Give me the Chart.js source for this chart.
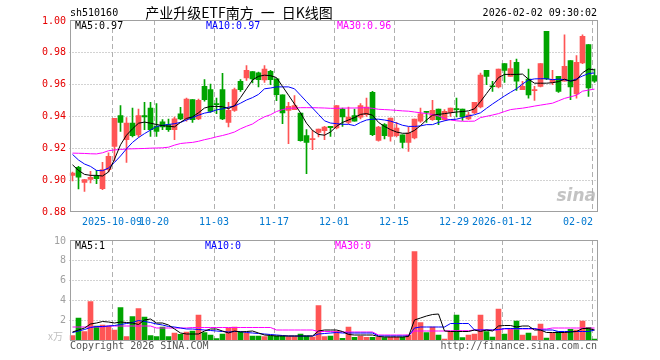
<!DOCTYPE html>
<html>
<head>
<meta charset="utf-8">
<script src="https://cdn.jsdelivr.net/npm/chart.js@4/dist/chart.umd.min.js"></script>
<style>
  body { margin: 0; background: #fff; }
  #wrap { position: relative; width: 660px; height: 360px; }
  canvas { position: absolute; left: 0; }
</style>
</head>
<body>
<div id="wrap">
  <canvas id="k" width="660" height="228" style="top:0"></canvas>
  <canvas id="v" width="660" height="132" style="top:228px"></canvas>
</div>
<script>
// trading days shown on the chart
const dates = ['09-22','09-23','09-24','09-25','09-26','09-29','09-30','10-09','10-10','10-13',
  '10-14','10-15','10-16','10-17','10-20','10-21','10-22','10-23','10-24','10-27',
  '10-28','10-29','10-30','10-31','11-03','11-04','11-05','11-06','11-07','11-10',
  '11-11','11-12','11-13','11-14','11-17','11-18','11-19','11-20','11-21','11-24',
  '11-25','11-26','11-27','11-28','12-01','12-02','12-03','12-04','12-05','12-08',
  '12-09','12-10','12-11','12-12','12-15','12-16','12-17','12-18','12-19','12-22',
  '12-23','12-24','12-25','12-26','12-29','12-30','12-31','01-05','01-06','01-07',
  '01-08','01-09','01-12','01-13','01-14','01-15','01-16','01-19','01-20','01-21',
  '01-22','01-23','01-26','01-27','01-28','01-29','01-30','02-02'];

const open = [.9029,.9079,.8985,.9004,.9023,.8946,.9065,.9210,.9402,.9252,
  .9356,.9281,.9402,.9450,.9335,.9363,.9346,.9315,.9413,.9381,
  .9502,.9381,.9585,.9565,.9477,.9565,.9360,.9435,.9617,.9638,
  .9677,.9670,.9625,.9679,.9633,.9533,.9435,.9440,.9419,.9277,
  .9252,.9298,.9308,.9335,.9325,.9444,.9360,.9402,.9392,.9408,
  .9548,.9248,.9346,.9273,.9277,.9283,.9235,.9263,.9367,.9429,
  .9377,.9444,.9377,.9423,.9442,.9444,.9381,.9419,.9456,.9685,
  .9587,.9581,.9727,.9648,.9735,.9565,.9631,.9558,.9585,.9929,
  .9610,.9648,.9617,.9746,.9538,.9731,.9846,.9652];
const high = [.9050,.9085,.9004,.9054,.9060,.9110,.9170,.9385,.9465,.9390,
  .9450,.9444,.9485,.9485,.9477,.9377,.9381,.9394,.9454,.9512,
  .9502,.9506,.9627,.9600,.9512,.9667,.9485,.9575,.9627,.9715,
  .9677,.9675,.9715,.9685,.9633,.9533,.9485,.9527,.9419,.9315,
  .9310,.9319,.9335,.9335,.9465,.9450,.9456,.9444,.9477,.9512,
  .9554,.9335,.9352,.9387,.9360,.9283,.9331,.9381,.9450,.9429,
  .9498,.9444,.9440,.9450,.9512,.9444,.9423,.9485,.9669,.9685,
  .9617,.9694,.9727,.9748,.9756,.9617,.9694,.9585,.9727,.9929,
  .9685,.9648,.9908,.9746,.9777,.9908,.9846,.9694];
const low = [.8995,.8944,.8929,.8981,.8977,.8940,.9050,.9120,.9304,.9110,
  .9270,.9270,.9315,.9273,.9273,.9315,.9304,.9252,.9377,.9367,
  .9360,.9377,.9492,.9423,.9415,.9377,.9331,.9429,.9554,.9623,
  .9606,.9581,.9610,.9596,.9496,.9352,.9227,.9440,.9242,.9040,
  .9190,.9269,.9252,.9273,.9320,.9335,.9352,.9367,.9381,.9398,
  .9277,.9242,.9256,.9242,.9269,.9200,.9179,.9256,.9360,.9360,
  .9373,.9346,.9373,.9398,.9394,.9373,.9377,.9415,.9450,.9596,
  .9554,.9575,.9610,.9648,.9560,.9565,.9512,.9498,.9581,.9627,
  .9596,.9548,.9617,.9502,.9512,.9727,.9523,.9610];
const close = [.9044,.9017,.9002,.9017,.9008,.9065,.9148,.9385,.9360,.9356,
  .9277,.9402,.9394,.9315,.9304,.9331,.9315,.9383,.9381,.9506,
  .9377,.9498,.9502,.9429,.9471,.9381,.9435,.9565,.9565,.9685,
  .9631,.9627,.9694,.9627,.9533,.9419,.9460,.9465,.9246,.9235,
  .9258,.9319,.9331,.9327,.9465,.9394,.9394,.9367,.9465,.9456,
  .9283,.9331,.9277,.9387,.9325,.9235,.9294,.9381,.9413,.9423,
  .9435,.9377,.9429,.9450,.9440,.9394,.9408,.9485,.9656,.9648,
  .9583,.9694,.9685,.9696,.9617,.9585,.9531,.9565,.9727,.9631,
  .9627,.9554,.9710,.9581,.9735,.9898,.9575,.9617];

const ma5 = [.9095,.9060,.9035,.9029,.9029,.9025,.9050,.9130,.9220,.9280,
  .9320,.9355,.9362,.9355,.9347,.9340,.9336,.9332,.9360,.9385,
  .9395,.9420,.9450,.9460,.9460,.9458,.9446,.9465,.9515,.9570,
  .9625,.9648,.9655,.9652,.9640,.9585,.9530,.9475,.9420,.9355,
  .9310,.9285,.9280,.9300,.9335,.9360,.9375,.9390,.9410,.9415,
  .9405,.9360,.9335,.9315,.9300,.9292,.9292,.9310,.9340,.9375,
  .9405,.9410,.9415,.9420,.9425,.9428,.9432,.9445,.9490,.9540,
  .9590,.9640,.9660,.9660,.9660,.9662,.9630,.9605,.9605,.9605,
  .9608,.9615,.9630,.9618,.9625,.9670,.9694,.9688];
const ma10 = [.9160,.9125,.9100,.9085,.9060,.9058,.9075,.9110,.9150,.9195,
  .9235,.9265,.9290,.9312,.9335,.9342,.9347,.9352,.9360,.9375,
  .9390,.9405,.9418,.9425,.9438,.9445,.9455,.9462,.9480,.9500,
  .9515,.9535,.9570,.9575,.9582,.9582,.9582,.9570,.9530,.9490,
  .9450,.9410,.9370,.9356,.9352,.9348,.9348,.9340,.9360,.9375,
  .9380,.9380,.9375,.9368,.9356,.9342,.9335,.9335,.9338,.9346,
  .9346,.9360,.9370,.9378,.9380,.9390,.9400,.9408,.9420,.9448,
  .9475,.9500,.9525,.9548,.9570,.9600,.9625,.9632,.9633,.9633,
  .9627,.9630,.9627,.9618,.9632,.9650,.9665,.9669];
const ma30 = [.9168,.9167,.9166,.9164,.9163,.9170,.9183,.9188,.9191,.9194,
  .9195,.9196,.9197,.9199,.9200,.9201,.9205,.9218,.9228,.9232,
  .9235,.9242,.9252,.9260,.9270,.9278,.9288,.9300,.9320,.9336,
  .9350,.9375,.9395,.9408,.9428,.9440,.9448,.9450,.9452,.9452,
  .9452,.9451,.9450,.9448,.9448,.9449,.9450,.9450,.9451,.9452,
  .9448,.9442,.9440,.9438,.9435,.9432,.9430,.9425,.9420,.9415,
  .9410,.9400,.9385,.9375,.9370,.9367,.9367,.9368,.9390,.9398,
  .9406,.9415,.9428,.9440,.9445,.9449,.9455,.9462,.9468,.9474,
  .9480,.9495,.9510,.9520,.9530,.9555,.9562,.9568];

// volume, in units of 10k lots
const volume = [0.43,2.2,0.85,3.83,1.4,1.5,1.4,1.0,3.23,0.33,
  2.33,3.13,2.3,0.43,0.33,1.3,0.33,0.7,0.57,0.8,
  0.9,2.5,0.73,0.5,0.13,0.6,1.17,1.3,0.8,0.7,
  0.4,0.4,0.33,0.4,0.4,0.4,0.33,0.33,0.6,0.4,
  0.3,3.43,0.33,0.4,0.9,0.17,1.3,0.27,0.4,0.27,
  0.27,0.27,0.23,0.27,0.27,0.27,0.5,8.83,1.73,0.73,
  1.3,0.5,0.1,0.83,2.5,0.23,0.5,0.6,2.5,0.83,
  0.3,3.1,0.6,1.1,1.9,0.5,0.7,0.4,1.6,0.2,
  0.67,0.83,0.73,1.07,1.0,1.9,1.27,0.1];
const vma5 = [0.8,1.0,1.2,1.6,1.7,1.85,1.8,1.7,1.8,1.75,
  1.7,1.55,2.0,2.1,1.7,1.7,1.5,1.1,0.7,0.6,
  0.6,0.6,0.9,1.1,1.1,0.9,0.7,0.9,0.8,0.85,
  0.9,0.7,0.5,0.45,0.4,0.4,0.4,0.4,0.4,0.4,
  0.4,0.9,1.0,1.0,1.0,0.85,0.55,0.5,0.5,0.5,
  0.5,0.35,0.3,0.3,0.3,0.3,0.35,2.0,2.2,2.4,
  2.55,2.6,0.9,0.85,0.85,0.85,0.85,1.0,0.85,1.0,
  0.9,1.4,1.45,1.45,1.3,1.4,1.4,1.0,1.0,0.75,
  0.75,0.75,0.75,0.8,0.85,1.15,1.15,1.0];
const vma10 = [0.75,0.9,1.05,1.25,1.35,1.35,1.4,1.45,1.55,1.65,
  1.75,1.95,1.85,1.75,1.6,1.5,1.35,1.3,1.2,1.1,
  1.1,1.05,1.0,0.95,0.9,0.85,0.8,0.85,0.85,0.75,
  0.7,0.65,0.6,0.55,0.5,0.45,0.4,0.4,0.4,0.4,
  0.4,0.6,0.65,0.7,0.75,0.7,0.7,0.7,0.7,0.7,
  0.7,0.4,0.4,0.4,0.4,0.4,0.4,1.2,1.3,1.3,
  1.3,1.3,1.3,1.65,1.65,1.65,1.65,1.0,1.0,1.0,
  1.0,1.05,1.15,1.15,1.15,1.15,1.15,1.15,1.0,1.0,
  1.0,0.85,0.85,0.85,0.85,0.85,0.85,1.0];
const vma30 = [1.3,1.3,1.3,1.3,1.3,1.3,1.4,1.4,1.4,1.4,
  1.4,1.4,1.4,1.4,1.2,1.2,1.2,1.2,1.2,1.2,
  1.25,1.25,1.25,1.25,1.25,1.25,1.25,1.25,1.25,1.25,
  1.25,1.25,1.25,1.25,1.0,1.0,1.0,1.0,1.0,1.0,
  1.0,0.85,0.85,0.85,0.8,0.8,0.8,0.8,0.8,0.8,
  0.8,0.5,0.5,0.5,0.5,0.5,0.5,0.9,0.9,0.9,
  0.9,0.9,0.9,0.93,0.93,0.93,0.93,1.0,1.0,1.0,
  1.0,1.0,1.1,1.1,1.1,1.1,1.1,1.1,1.1,1.1,
  1.2,1.2,1.2,1.2,1.2,1.2,1.2,1.2];

const priceTicks = [0.88, 0.90, 0.92, 0.94, 0.96, 0.98, 1.00];
const volTicks = [2, 4, 6, 8, 10];
const axisDates = ['2025-10-09','10-20','11-03','11-17','12-01','12-15','12-29','2026-01-12','02-02'];

const RED = '#ff5555';
const GREEN = '#00a400';
const MONO = '10px "DejaVu Sans Mono", monospace';
const colors = close.map((c, i) => c >= open[i] ? RED : GREEN);
const tickIndex = axisDates.map(d => dates.indexOf(d.slice(-5)));

// grid, frame and all the text around the two panels
const frame = {
  id: 'frame',
  beforeDatasetsDraw(chart, args, o) {
    const {ctx, chartArea: a, scales: {x, y}} = chart;
    const half = (x.getPixelForValue(1) - x.getPixelForValue(0)) / 2;
    ctx.save();
    ctx.lineWidth = 1;
    ctx.strokeStyle = '#a6a6a6';
    ctx.setLineDash([1, 2]);
    o.ticks.forEach(v => {
      if (v <= y.min || v >= y.max) return;
      const py = Math.round(y.getPixelForValue(v)) + 0.5;
      ctx.beginPath(); ctx.moveTo(a.left, py); ctx.lineTo(a.right, py); ctx.stroke();
    });
    ctx.strokeStyle = '#b0b0b0';
    ctx.setLineDash([5, 3]);
    tickIndex.forEach(i => {
      const px = Math.round(x.getPixelForValue(i) - half) + 0.5;
      ctx.beginPath(); ctx.moveTo(px, a.top); ctx.lineTo(px, a.bottom); ctx.stroke();
    });
    ctx.restore();
  },
  afterDraw(chart, args, o) {
    const {ctx, chartArea: a, scales: {x, y}} = chart;
    const half = (x.getPixelForValue(1) - x.getPixelForValue(0)) / 2;
    ctx.save();
    // frame
    ctx.strokeStyle = '#a0a0a0';
    ctx.lineWidth = 1;
    const l = Math.ceil(a.left) + 0.5, t = Math.round(a.top) + 0.5;
    const r = Math.floor(a.right) + 0.5, b = Math.round(a.bottom) + o.bottomAdj;
    ctx.strokeRect(l, t, r - l, b - t);

    ctx.font = MONO;
    ctx.textBaseline = 'middle';
    // y labels
    ctx.textAlign = 'right';
    ctx.fillStyle = o.yColor;
    o.ticks.forEach(v => {
      if (v < y.min) return;
      ctx.fillText(o.yFmt(v), 66, y.getPixelForValue(v) + (v >= y.max ? 1.5 : 0));
    });
    // date labels
    if (o.dates) {
      ctx.fillStyle = '#0078d0';
      axisDates.forEach((d, k) => {
        const px = Math.round(x.getPixelForValue(tickIndex[k]) - half);
        ctx.textAlign = k === axisDates.length - 1 ? 'right' : 'center';
        ctx.fillText(d, px + (k === axisDates.length - 1 ? 1 : 0), a.bottom + 10);
      });
    }
    // legends and other texts
    o.texts.forEach(s => {
      ctx.font = s.font || MONO;
      ctx.fillStyle = s.color;
      ctx.textAlign = s.align || 'left';
      ctx.fillText(s.text, s.x, s.y);
    });
    ctx.restore();
  }
};

function lineSet(data, color) {
  return { type: 'line', data, borderColor: color, borderWidth: 1, pointRadius: 0,
    tension: 0, fill: false, order: 0 };
}

const common = {
  responsive: false,
  animation: false,
  events: [],
  plugins: { legend: { display: false }, tooltip: { enabled: false } }
};

new Chart(document.getElementById('k'), {
  type: 'bar',
  data: {
    labels: dates,
    datasets: [
      lineSet(ma5, '#000000'),
      lineSet(ma10, '#0000ff'),
      lineSet(ma30, '#ff00ff'),
      { data: dates.map((d, i) => [open[i], close[i]]), backgroundColor: colors,
        barThickness: 5, minBarLength: 1, grouped: false, order: 1 },
      { data: dates.map((d, i) => [low[i], high[i]]), backgroundColor: colors,
        barThickness: 1, minBarLength: 1, grouped: false, order: 2 }
    ]
  },
  options: {
    ...common,
    layout: { padding: { left: 69.5, right: 62.5, top: 20, bottom: 16 } },
    scales: {
      x: { display: false, offset: true },
      y: { display: false, min: 0.88, max: 1.00 }
    },
    plugins: {
      ...common.plugins,
      frame: {
        ticks: priceTicks, yFmt: v => v.toFixed(2), yColor: '#e60000', dates: true, bottomAdj: -0.5,
        texts: [
          { text: 'sh510160', x: 70, y: 13, color: '#000' },
          { text: '产业升级ETF南方\u2002一\u2002日K线图', x: 239, y: 13, color: '#000', align: 'center',
            font: '14px "Noto Sans CJK SC", sans-serif' },
          { text: '2026-02-02 09:30:02', x: 597, y: 13, color: '#000', align: 'right' },
          { text: 'MA5:' + ma5[ma5.length - 1].toFixed(2), x: 75, y: 26, color: '#000' },
          { text: 'MA10:' + ma10[ma10.length - 1].toFixed(2), x: 206, y: 26, color: '#0000ff' },
          { text: 'MA30:' + ma30[ma30.length - 1].toFixed(2), x: 337, y: 26, color: '#ff00ff' },
          { text: 'sina', x: 596, y: 197, color: 'rgba(175,175,175,0.75)', align: 'right',
            font: 'italic bold 17px "DejaVu Sans", sans-serif' }
        ]
      }
    }
  },
  plugins: [frame]
});

new Chart(document.getElementById('v'), {
  type: 'bar',
  data: {
    labels: dates,
    datasets: [
      lineSet(vma5, '#000000'),
      lineSet(vma10, '#0000ff'),
      lineSet(vma30, '#ff00ff'),
      { data: volume, backgroundColor: colors, barThickness: 5, grouped: false, order: 1 }
    ]
  },
  options: {
    ...common,
    layout: { padding: { left: 69.5, right: 62.5, top: 12, bottom: 20 } },
    scales: {
      x: { display: false, offset: true },
      y: { display: false, min: 0, max: 10 }
    },
    plugins: {
      ...common.plugins,
      frame: {
        ticks: volTicks, yFmt: v => String(v), yColor: '#a0a0a0', dates: false, bottomAdj: 0.5,
        texts: [
          { text: 'MA5:1', x: 75, y: 18, color: '#000' },
          { text: 'MA10:0', x: 205, y: 18, color: '#0000ff' },
          { text: 'MA30:0', x: 335, y: 18, color: '#ff00ff' },
          { text: 'x万', x: 63, y: 108, color: '#c0c0c0', align: 'right',
            font: '10px "Noto Sans CJK SC", sans-serif' },
          { text: 'Copyright 2026 SINA.COM', x: 70, y: 118, color: '#555' },
          { text: 'http://finance.sina.com.cn', x: 597, y: 118, color: '#555', align: 'right' }
        ]
      }
    }
  },
  plugins: [frame]
});
</script>
</body>
</html>
